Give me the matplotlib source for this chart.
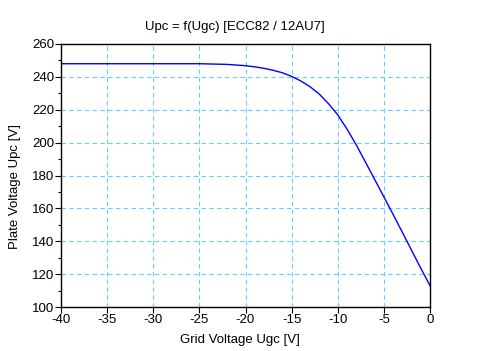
import numpy as np
import matplotlib
matplotlib.use("Agg")
import matplotlib.pyplot as plt
from matplotlib.ticker import MultipleLocator

# grid voltage [V] and plate voltage [V]
ugc = [-40, -30, -25, -22, -20, -19, -18, -17, -16, -15, -14, -13, -12, -11,
       -10, -9, -8, -7, -6, -5, -4, -3, -2, -1, 0]
upc = [248, 248, 248, 247.6, 246.8, 246.1, 245.2, 244, 242.5, 240.3, 237.5, 234, 229.5, 223.7,
       216.9, 208.3, 198.7, 188.2, 177.6, 167, 156.3, 145.5, 134.5, 123.6, 113]

title = "Upc = f(Ugc) [ECC82 / 12AU7]"
xlabel = "Grid Voltage Ugc [V]"
ylabel = "Plate Voltage Upc [V]"

plt.rcParams['font.family'] = ['Liberation Sans', 'DejaVu Sans']
plt.rcParams['font.size'] = 9
plt.rcParams['axes.unicode_minus'] = False

W, H = 492, 351
fig = plt.figure(figsize=(W / 100, H / 100), dpi=100)
ax = fig.add_axes([61 / W, 1 - 307 / H, 369 / W, 263 / H])

ax.plot(ugc, upc, color='#0000ff', lw=1.0)

ax.set_xlim(-40, 0)
ax.set_ylim(100, 260)
ax.xaxis.set_major_locator(MultipleLocator(5))
ax.yaxis.set_major_locator(MultipleLocator(20))
ax.yaxis.set_minor_locator(MultipleLocator(10))
ax.tick_params(which='major', direction='out', length=4, width=0.8, pad=1, labelsize=9.5)
ax.tick_params(which='minor', direction='out', length=2.5, width=0.8)
ax.grid(True, which='major', color='#66ccff', linestyle=(0, (4, 3)), lw=0.8)
for s in ax.spines.values():
    s.set_linewidth(1.0)

fig.text(235 / W, 1 - 27 / H, title, ha='center', va='center', fontsize=9.5)
fig.text(240 / W, 1 - 340 / H, xlabel, ha='center', va='center', fontsize=9.5)
fig.text(15 / W, 1 - 187 / H, ylabel, ha='center', va='center', rotation=90, fontsize=9.5)

fig.savefig('out.png', dpi=100)
